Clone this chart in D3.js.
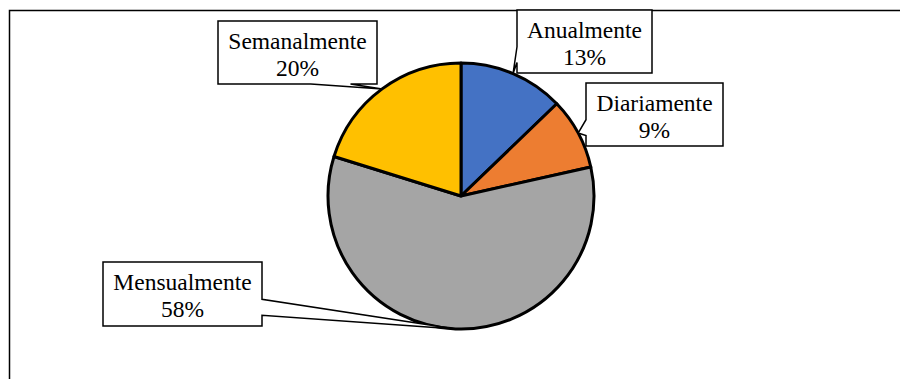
<!DOCTYPE html>
<html>
<head>
<meta charset="utf-8">
<script src="https://cdn.jsdelivr.net/npm/d3@7"></script>
<style>
  html, body { margin: 0; padding: 0; background: #fff; }
  svg { display: block; }
</style>
</head>
<body>
<svg id="chart" width="900" height="379"></svg>
<script>
// ---- data ----
const categories = ["Anualmente", "Diariamente", "Mensualmente", "Semanalmente"];
const values = [12.8, 8.7, 58.3, 20.2];
const percentLabels = ["13%", "9%", "58%", "20%"];
const colors = ["#4472C4", "#ED7D31", "#A5A5A5", "#FFC000"];

// ---- layout (callout box rectangles, in px) ----
const calloutBoxes = [
  { x: 517, y: 10,  w: 135, h: 63 },
  { x: 586, y: 83,  w: 137, h: 63 },
  { x: 103, y: 262, w: 159, h: 64 },
  { x: 218, y: 21,  w: 159, h: 63 }
];

const W = 900, H = 379;
const cx = 461, cy = 196, R = 133;
const svg = d3.select("#chart");

// outer chart border (extends past right/bottom edges)
svg.append("rect")
  .attr("x", 9.5).attr("y", 10.5)
  .attr("width", 1200).attr("height", 800)
  .attr("fill", "none").attr("stroke", "#000").attr("stroke-width", 1.5);

const pie = d3.pie().sort(null).value(d => d);
const arcs = pie(values);
const arc = d3.arc().innerRadius(0).outerRadius(R);

const g = svg.append("g").attr("transform", `translate(${cx},${cy})`);
g.selectAll("path.slice")
  .data(arcs)
  .enter().append("path")
  .attr("class", "slice")
  .attr("d", arc)
  .attr("fill", (d, i) => colors[i])
  .attr("stroke", "#000")
  .attr("stroke-width", 3)
  .attr("stroke-linejoin", "round");

// Excel-style wedgeRectCallout
function calloutPath(b, tx, ty) {
  const l = b.x, t = b.y, r = b.x + b.w, bt = b.y + b.h;
  const hc = b.x + b.w / 2, vc = b.y + b.h / 2;
  const dx = tx - hc, dy = ty - vc;
  const dq = dx * b.h / b.w;
  const dz = Math.abs(dy) - Math.abs(dq);
  const x1 = l + b.w * (dx > 0 ? 7 : 2) / 12, x2 = l + b.w * (dx > 0 ? 10 : 5) / 12;
  const y1 = t + b.h * (dy > 0 ? 7 : 2) / 12, y2 = t + b.h * (dy > 0 ? 10 : 5) / 12;
  const p = d3.path();
  p.moveTo(l, t);
  if (dz > 0 && dy < 0) { p.lineTo(x1, t); p.lineTo(tx, ty); p.lineTo(x2, t); }
  p.lineTo(r, t);
  if (dz <= 0 && dx > 0) { p.lineTo(r, y1); p.lineTo(tx, ty); p.lineTo(r, y2); }
  p.lineTo(r, bt);
  if (dz > 0 && dy > 0) { p.lineTo(x2, bt); p.lineTo(tx, ty); p.lineTo(x1, bt); }
  p.lineTo(l, bt);
  if (dz <= 0 && dx < 0) { p.lineTo(l, y2); p.lineTo(tx, ty); p.lineTo(l, y1); }
  p.closePath();
  return p.toString();
}

const labelG = svg.append("g");
arcs.forEach((d, i) => {
  const mid = (d.startAngle + d.endAngle) / 2;
  const tx = cx + R * Math.sin(mid);
  const ty = cy - R * Math.cos(mid);
  const b = calloutBoxes[i];
  labelG.append("path")
    .attr("d", calloutPath(b, tx, ty))
    .attr("fill", "#fff")
    .attr("stroke", "#000")
    .attr("stroke-width", 1.5)
    .attr("stroke-linejoin", "miter");
  const t = labelG.append("text")
    .attr("font-family", "'Liberation Serif', 'Times New Roman', serif")
    .attr("font-size", 23.5)
    .attr("fill", "#000")
    .attr("text-anchor", "middle");
  t.append("tspan").attr("x", b.x + b.w / 2).attr("y", b.y + 28).text(categories[i]);
  t.append("tspan").attr("x", b.x + b.w / 2).attr("y", b.y + 54.5).text(percentLabels[i]);
});
</script>
</body>
</html>
